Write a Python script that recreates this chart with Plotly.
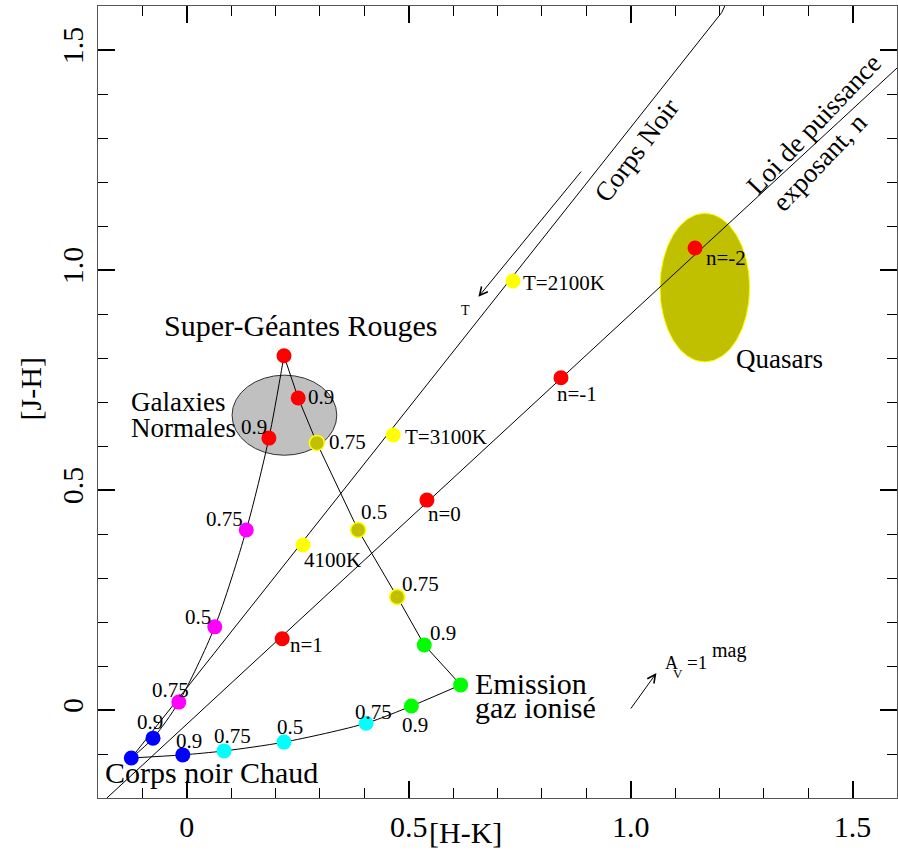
import plotly.graph_objects as go

FONT = "Times New Roman"

# ---------------- data ----------------
blue_x = [-0.125, -0.076, -0.009]
blue_y = [-0.109, -0.064, -0.102]
mag_x = [-0.018, 0.063, 0.134]
mag_y = [0.018, 0.189, 0.409]
cyan_x = [0.084, 0.219, 0.404]
cyan_y = [-0.093, -0.073, -0.030]
green_x = [0.506, 0.617, 0.535]
green_y = [0.009, 0.057, 0.148]
olive_x = [0.474, 0.386, 0.293]
olive_y = [0.257, 0.409, 0.607]
red_x = [0.219, 0.251, 0.185, 0.215, 0.541, 0.843, 1.145]
red_y = [0.805, 0.709, 0.618, 0.162, 0.477, 0.755, 1.050]
yel_x = [0.262, 0.465, 0.735]
yel_y = [0.375, 0.625, 0.975]

# straight tracks
bb_x = [-0.125, 1.205, 1.212]     # corps noir
bb_y = [-0.109, 1.585, 1.600]
pl_x = [-0.180, 1.600]            # loi de puissance
pl_y = [-0.200, 1.459]

# ellipses: centre and semi-axes
gal_c = (0.220, 0.670)
gal_r = (0.118, 0.091)
qso_c = (1.167, 0.960)
qso_r = (0.101, 0.169)

# reddening / T arrows (head, tail)
av_head = (1.058, 0.084)
av_tail = (0.998, 0.000)
t_head = (0.657, 0.939)
t_tail = (0.891, 1.227)

# small point labels
small_text = ["0.75", "0.5", "0.75", "0.9", "0.9", "0.75", "0.5", "0.75",
              "0.9", "0.9", "0.75", "0.5", "0.75", "0.9", "0.9",
              "n=1", "n=0", "n=-1", "n=-2", "4100K", "T=3100K", "T=2100K"]
small_x = [-0.037, 0.025, 0.084, -0.083, 0.005, 0.102, 0.233, 0.420,
           0.514, 0.577, 0.526, 0.421, 0.361, 0.302, 0.152,
           0.269, 0.581, 0.879, 1.215, 0.328, 0.584, 0.850]
small_y = [0.045, 0.211, 0.434, -0.027, -0.070, -0.059, -0.039, -0.005,
           -0.034, 0.175, 0.286, 0.450, 0.609, 0.711, 0.643,
           0.148, 0.445, 0.718, 1.027, 0.341, 0.620, 0.970]

tick_vals = [0, 0.5, 1.0, 1.5]
tick_text = ["0", "0.5", "1.0", "1.5"]

# ---------------- curves built from the points ----------------
left_x = [blue_x[0], blue_x[1], mag_x[0], mag_x[1], mag_x[2], red_x[2], red_x[0]]
left_y = [blue_y[0], blue_y[1], mag_y[0], mag_y[1], mag_y[2], red_y[2], red_y[0]]
right_x = [red_x[0], red_x[1], olive_x[2], olive_x[1], olive_x[0], green_x[2], green_x[1]]
right_y = [red_y[0], red_y[1], olive_y[2], olive_y[1], olive_y[0], green_y[2], green_y[1]]
bot_x = [blue_x[0], blue_x[2], cyan_x[0], cyan_x[1], cyan_x[2], green_x[0], green_x[1]]
bot_y = [blue_y[0], blue_y[2], cyan_y[0], cyan_y[1], cyan_y[2], green_y[0], green_y[1]]

fig = go.Figure()
LINE = dict(color="black", width=1)
fig.add_trace(go.Scatter(x=pl_x, y=pl_y, mode="lines", line=LINE))
fig.add_trace(go.Scatter(x=bb_x, y=bb_y, mode="lines", line=LINE))
fig.add_trace(go.Scatter(x=left_x, y=left_y, mode="lines",
                         line=dict(color="black", width=1, shape="spline", smoothing=0.8)))
fig.add_trace(go.Scatter(x=right_x, y=right_y, mode="lines", line=LINE))
fig.add_trace(go.Scatter(x=bot_x, y=bot_y, mode="lines",
                         line=dict(color="black", width=1, shape="spline", smoothing=0.8)))

def pts(x, y, color, lc=None):
    fig.add_trace(go.Scatter(x=x, y=y, mode="markers",
                             marker=dict(size=15, color=color,
                                         line=dict(color=lc or color, width=1.5 if lc else 0))))

pts(mag_x, mag_y, "#ff00ff")
pts(blue_x, blue_y, "#0000ff")
pts(cyan_x, cyan_y, "#00ffff")
pts(green_x, green_y, "#00ff00")
pts(olive_x, olive_y, "#c0c000", "#ffff00")
pts(red_x, red_y, "#ff0000")
pts(yel_x, yel_y, "#ffff00")

shapes = [
    dict(type="circle", xref="x", yref="y", layer="below",
         x0=gal_c[0] - gal_r[0], x1=gal_c[0] + gal_r[0],
         y0=gal_c[1] - gal_r[1], y1=gal_c[1] + gal_r[1],
         fillcolor="#c0c0c0", line=dict(color="#333333", width=1)),
    dict(type="circle", xref="x", yref="y", layer="below",
         x0=qso_c[0] - qso_r[0], x1=qso_c[0] + qso_r[0],
         y0=qso_c[1] - qso_r[1], y1=qso_c[1] + qso_r[1],
         fillcolor="#c0c000", line=dict(color="#ffff00", width=1)),
]

ann = []
for t, x, y in zip(small_text, small_x, small_y):
    ann.append(dict(x=x, y=y, text=t, showarrow=False, xanchor="center", yanchor="middle",
                    font=dict(family=FONT, size=21, color="black")))

def big(text, x, y, size=28, xa="center", angle=0):
    ann.append(dict(x=x, y=y, text=text, showarrow=False, xanchor=xa, yanchor="middle",
                    textangle=angle, font=dict(family=FONT, size=size, color="black")))

big("Super-Géantes Rouges", 0.258, 0.873, 30)
big("Galaxies", -0.130, 0.700, 27, "left")
big("Normales", -0.130, 0.641, 27, "left")
big("Corps noir Chaud", -0.189, -0.143, 30, "left")
big("Emission", 0.645, 0.061, 30, "left")
big("gaz ionisé", 0.645, 0.005, 30, "left")
big("Quasars", 1.336, 0.798, 27)
big("Corps Noir", 1.014, 1.273, 27, angle=-53)
big("Loi de puissance", 1.413, 1.332, 27, angle=-46.5)
big("exposant, n", 1.426, 1.245, 27, angle=-46.5)
# A_V = 1^mag, built piece by piece so the superscript keeps full size
big("A", 1.0725, 0.107, 18, "left")
big("V", 1.0905, 0.083, 13, "left")
big("=1", 1.1221, 0.109, 19, "left")
big("mag", 1.1784, 0.136, 20, "left")
big("T", 0.627, 0.909, 14)

for head, tail in [(av_head, av_tail), (t_head, t_tail)]:
    ann.append(dict(x=head[0], y=head[1], ax=tail[0], ay=tail[1], axref="x", ayref="y",
                    xref="x", yref="y", text="", showarrow=True, arrowhead=5,
                    arrowsize=1.6, arrowwidth=1, arrowcolor="black"))

# axis titles
ann.append(dict(x=0.627, y=-0.043, xref="x", yref="paper", text="[H-K]", showarrow=False,
                xanchor="center", yanchor="middle", font=dict(family=FONT, size=30, color="black")))
ann.append(dict(x=-0.085, y=0.516, xref="paper", yref="paper", text="[J-H]", showarrow=False,
                textangle=-90, xanchor="center", yanchor="middle",
                font=dict(family=FONT, size=30, color="black")))

axis = dict(range=[-0.2, 1.6], tickvals=tick_vals, ticktext=tick_text,
            ticks="inside", ticklen=17, tickwidth=2, tickcolor="black",
            showline=True, linecolor="#555555", linewidth=1, mirror="ticks",
            showgrid=False, zeroline=False, automargin=False,
            minor=dict(dtick=0.1, tick0=0, ticks="inside", ticklen=10, tickwidth=1,
                       tickcolor="black", showgrid=False),
            tickfont=dict(family=FONT, size=30, color="black"))

fig.update_layout(
    width=898, height=857, autosize=False,
    margin=dict(l=98, r=1, t=6, b=59),
    plot_bgcolor="white", paper_bgcolor="white",
    showlegend=False,
    font=dict(family=FONT),
    xaxis=dict(axis, ticklabelstandoff=2),
    yaxis=dict(axis, tickangle=-90, ticklabelstandoff=2),
    shapes=shapes, annotations=ann,
)

fig.write_html("out.html", config={"displayModeBar": False},
               post_script="document.body.style.margin='0';")
